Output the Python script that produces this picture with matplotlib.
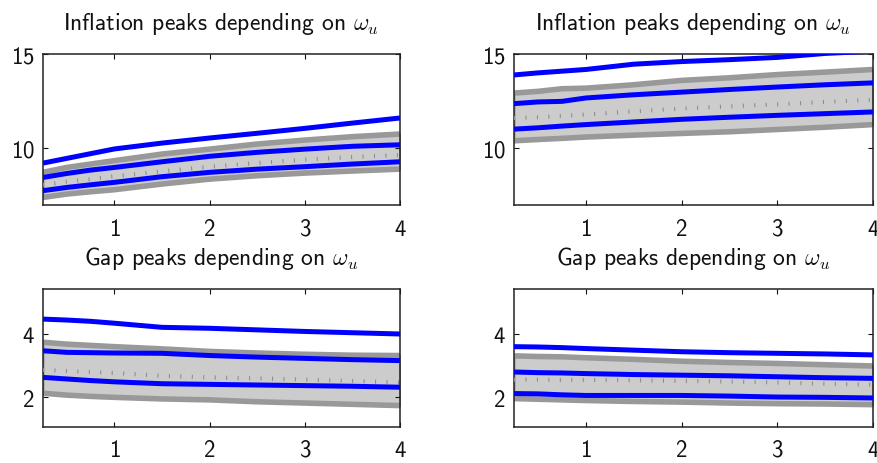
import numpy as np
import matplotlib
matplotlib.use("Agg")
import matplotlib.pyplot as plt

plt.rcParams["font.family"] = ["cmss10", "DejaVu Sans"]
plt.rcParams["mathtext.fontset"] = "cm"
plt.rcParams["axes.unicode_minus"] = False
plt.rcParams["axes.formatter.use_mathtext"] = True

# common grid of omega_u values
omega = [0.25, 0.5, 0.75, 1.0, 1.5, 2.0, 2.5, 3.0, 3.5, 4.0]

# Inflation peaks, left case
infl_l_band_lo = [7.40, 7.58, 7.70, 7.81, 8.11, 8.37, 8.55, 8.69, 8.80, 8.90]
infl_l_band_hi = [8.73, 8.99, 9.17, 9.35, 9.70, 9.96, 10.23, 10.44, 10.62, 10.76]
infl_l_median = [8.07, 8.23, 8.37, 8.52, 8.78, 9.03, 9.22, 9.40, 9.54, 9.65]
infl_l_blue_lo = [7.76, 7.93, 8.07, 8.20, 8.50, 8.73, 8.90, 9.03, 9.17, 9.29]
infl_l_blue_mid = [8.46, 8.67, 8.85, 8.99, 9.29, 9.58, 9.79, 9.96, 10.11, 10.19]
infl_l_blue_hi = [9.22, 9.47, 9.72, 9.97, 10.28, 10.55, 10.80, 11.06, 11.34, 11.61]

# Inflation peaks, right case
infl_r_band_lo = [10.40, 10.47, 10.53, 10.60, 10.70, 10.79, 10.88, 11.00, 11.12, 11.26]
infl_r_band_hi = [12.93, 13.02, 13.16, 13.19, 13.37, 13.60, 13.74, 13.91, 14.04, 14.18]
infl_r_median = [11.61, 11.65, 11.72, 11.79, 11.96, 12.11, 12.23, 12.33, 12.46, 12.58]
infl_r_blue_lo = [11.02, 11.09, 11.18, 11.26, 11.40, 11.54, 11.65, 11.75, 11.84, 11.93]
infl_r_blue_mid = [12.37, 12.46, 12.49, 12.67, 12.84, 12.98, 13.12, 13.25, 13.37, 13.47]
infl_r_blue_hi = [13.89, 14.00, 14.09, 14.18, 14.46, 14.60, 14.70, 14.82, 15.03, 15.15]

# Gap peaks, left case
gap_l_band_lo = [2.13, 2.07, 2.03, 2.00, 1.95, 1.92, 1.86, 1.82, 1.78, 1.74]
gap_l_band_hi = [3.74, 3.68, 3.64, 3.60, 3.53, 3.45, 3.40, 3.36, 3.33, 3.32]
gap_l_median = [2.87, 2.83, 2.80, 2.77, 2.68, 2.63, 2.60, 2.56, 2.52, 2.47]
gap_l_blue_lo = [2.63, 2.58, 2.53, 2.49, 2.43, 2.41, 2.39, 2.37, 2.35, 2.32]
gap_l_blue_mid = [3.47, 3.42, 3.41, 3.40, 3.39, 3.32, 3.27, 3.23, 3.19, 3.16]
gap_l_blue_hi = [4.47, 4.44, 4.40, 4.34, 4.21, 4.18, 4.13, 4.08, 4.04, 4.00]

# Gap peaks, right case
gap_r_band_lo = [1.96, 1.94, 1.92, 1.90, 1.87, 1.85, 1.82, 1.80, 1.79, 1.77]
gap_r_band_hi = [3.31, 3.29, 3.28, 3.25, 3.20, 3.14, 3.10, 3.07, 3.03, 2.99]
gap_r_median = [2.56, 2.56, 2.55, 2.55, 2.54, 2.52, 2.50, 2.47, 2.43, 2.40]
gap_r_blue_lo = [2.12, 2.11, 2.08, 2.06, 2.06, 2.06, 2.04, 2.01, 2.00, 1.98]
gap_r_blue_mid = [2.80, 2.78, 2.77, 2.75, 2.72, 2.70, 2.68, 2.65, 2.62, 2.60]
gap_r_blue_hi = [3.60, 3.59, 3.57, 3.54, 3.49, 3.44, 3.41, 3.39, 3.37, 3.34]

x_ticks = [1, 2, 3, 4]
infl_yticks = [10, 15]
gap_yticks = [2, 4]

titles = [r"Inflation peaks depending on $\omega_u$",
          r"Gap peaks depending on $\omega_u$"]

BAND_FILL = "#cccccc"
BAND_EDGE = "#999999"
MEDIAN = "#8c8c8c"
BLUE = "#0000ff"

fig = plt.figure(figsize=(8.78, 4.64), dpi=100)

W, H = 878.0, 464.0
col_x = [(43, 400), (514, 873)]
row_y = [(55, 206), (290, 427.5)]


def make_axes(c, r):
    x0, x1 = col_x[c]
    y0, y1 = row_y[r]
    return fig.add_axes([x0 / W, 1 - y1 / H, (x1 - x0) / W, (y1 - y0) / H])


def draw_panel(ax, lo, hi, med, b_lo, b_mid, b_hi, ylim, yticks, title):
    ax.fill_between(omega, lo, hi, facecolor=BAND_FILL, edgecolor=BAND_EDGE,
                    linewidth=1.5, zorder=1)
    ax.plot(omega, lo, color=BAND_EDGE, lw=4.0, solid_capstyle="butt", zorder=2)
    ax.plot(omega, hi, color=BAND_EDGE, lw=4.0, solid_capstyle="butt", zorder=2)
    ax.plot(omega, med, color=MEDIAN, lw=3.0, linestyle=(0, (0.25, 2.5)),
            dash_capstyle="butt", zorder=3)
    for s in (b_lo, b_mid, b_hi):
        ax.plot(omega, s, color=BLUE, lw=3.6, solid_capstyle="butt", zorder=4)
    ax.set_xlim(0.25, 4)
    ax.set_ylim(*ylim)
    ax.set_xticks(x_ticks)
    ax.set_yticks(yticks)
    ax.tick_params(direction="in", length=3.5, width=0.8, top=True, right=True,
                   labelsize=16.5, colors="#111111")
    ax.tick_params(axis="x", pad=9)
    ax.tick_params(axis="y", pad=6)
    for sp in ax.spines.values():
        sp.set_linewidth(1.1)
        sp.set_color("#222222")
    ax.set_title(title, fontsize=17, pad=18, color="#111111")


ax = make_axes(0, 0)
draw_panel(ax, infl_l_band_lo, infl_l_band_hi, infl_l_median, infl_l_blue_lo,
           infl_l_blue_mid, infl_l_blue_hi, (7, 15), infl_yticks, titles[0])
ax = make_axes(1, 0)
draw_panel(ax, infl_r_band_lo, infl_r_band_hi, infl_r_median, infl_r_blue_lo,
           infl_r_blue_mid, infl_r_blue_hi, (7, 15), infl_yticks, titles[0])
ax = make_axes(0, 1)
draw_panel(ax, gap_l_band_lo, gap_l_band_hi, gap_l_median, gap_l_blue_lo,
           gap_l_blue_mid, gap_l_blue_hi, (1.08, 5.42), gap_yticks, titles[1])
ax = make_axes(1, 1)
draw_panel(ax, gap_r_band_lo, gap_r_band_hi, gap_r_median, gap_r_blue_lo,
           gap_r_blue_mid, gap_r_blue_hi, (1.08, 5.42), gap_yticks, titles[1])

fig.savefig("out.png", dpi=100)
